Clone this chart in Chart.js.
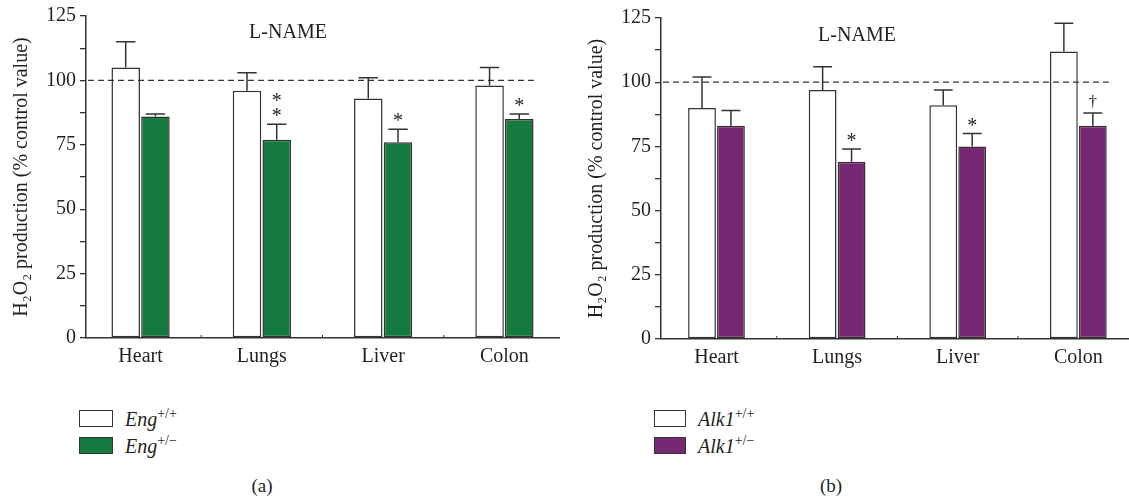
<!DOCTYPE html>
<html lang="en">
<head>
<meta charset="UTF-8">
<title>H2O2 production - L-NAME</title>
<script src="https://cdn.jsdelivr.net/npm/chart.js@4.4.1/dist/chart.umd.min.js"></script>
<style>
    body {
        margin: 0;
        background: #ffffff;
        font-family: 'Liberation Serif', 'DejaVu Serif', serif;
        color: #231f20;
    }
    #page { position: relative; width: 1129px; height: 498px; overflow: hidden; background: #fff; }
    .panel { position: absolute; top: 0; height: 380px; }
    .title { position: absolute; font-size: 20px; line-height: 24px; transform: translateX(-50%); white-space: nowrap; }
    .legend { position: absolute; font-size: 20px; line-height: 24px; }
    .legend .row { display: flex; align-items: center; height: 27px; }
    .legend .sw { box-sizing: border-box; height: 17px; border: 1.5px solid #333; margin-right: 12px; }
    .legend i sup { font-size: 14px; vertical-align: 8px; line-height: 0; font-style: normal; }
    .caption { position: absolute; top: 474px; font-size: 19px; line-height: 24px; transform: translateX(-50%); }
</style>
</head>
<body>
<div id="page">
    <div class="panel" style="left:0; width:565px;"><canvas id="chartA"></canvas></div>
    <div class="panel" style="left:575px; width:554px;"><canvas id="chartB"></canvas></div>

    <div class="title" style="left:288px; top:19px;">L-NAME</div>
    <div class="title" style="left:857px; top:22px;">L-NAME</div>

    <div class="legend" style="left:79px; top:405px;">
        <div class="row"><span class="sw" style="width:34px; background:#fff;"></span><i>Eng<sup>+/+</sup></i></div>
        <div class="row"><span class="sw" style="width:34px; background:#157a40;"></span><i>Eng<sup>+/−</sup></i></div>
    </div>
    <div class="legend" style="left:654px; top:405px;">
        <div class="row"><span class="sw" style="width:32px; background:#fff;"></span><i>Alk1<sup>+/+</sup></i></div>
        <div class="row"><span class="sw" style="width:32px; background:#762873;"></span><i>Alk1<sup>+/−</sup></i></div>
    </div>

    <div class="caption" style="left:262px;">(a)</div>
    <div class="caption" style="left:831px;">(b)</div>
</div>

<script>
    // categories
    const organs = ['Heart', 'Lungs', 'Liver', 'Colon'];
    const yTicksMajor = [0, 25, 50, 75, 100, 125];

    // panel (a): Eng
    const engWT = [105, 96, 93, 98];
    const engWTErr = [10, 7, 8, 7];
    const engHet = [86, 77, 76, 85];
    const engHetErr = [1, 6, 5, 2];
    const engMarks = ['', '**', '*', '*'];

    // panel (b): Alk1
    const alkWT = [90, 97, 91, 112];
    const alkWTErr = [12, 9, 6, 11];
    const alkHet = [83, 69, 75, 83];
    const alkHetErr = [6, 5, 5, 5];
    const alkMarks = ['', '*', '*', '†'];

    const controlValue = 100;

    const FONT = "'Liberation Serif', 'DejaVu Serif', serif";
    const INK = '#231f20';
    const LINE = '#333333';

    // error bars, significance marks and the dashed control line
    const extrasPlugin = {
        id: 'extras',
        afterDatasetsDraw(chart, args, opts) {
            const { ctx, chartArea, scales: { x, y } } = chart;
            ctx.save();
            ctx.strokeStyle = LINE;
            ctx.lineWidth = 1.5;

            // error bars (upper only)
            opts.errors.forEach((errs, di) => {
                const meta = chart.getDatasetMeta(di);
                meta.data.forEach((bar, i) => {
                    const v = chart.data.datasets[di].data[i].y;
                    const top = y.getPixelForValue(v + errs[i]);
                    const half = bar.width * 0.34;
                    ctx.beginPath();
                    ctx.moveTo(bar.x, bar.y);
                    ctx.lineTo(bar.x, top);
                    ctx.moveTo(bar.x - half, top);
                    ctx.lineTo(bar.x + half, top);
                    ctx.stroke();
                });
            });

            // significance marks above the second group
            const hetIdx = 1;
            const hetMeta = chart.getDatasetMeta(hetIdx);
            ctx.fillStyle = INK;
            ctx.textAlign = 'center';
            ctx.textBaseline = 'alphabetic';
            opts.marks.forEach((m, i) => {
                if (!m) return;
                const bar = hetMeta.data[i];
                const v = chart.data.datasets[hetIdx].data[i].y;
                const top = y.getPixelForValue(v + opts.errors[hetIdx][i]);
                const chars = Array.from(m);
                chars.forEach((c, k) => {
                    if (c === '†') {
                        ctx.font = '17px ' + FONT;
                        ctx.fillText(c, bar.x, top - 6);
                    } else {
                        ctx.font = '20px ' + FONT;
                        ctx.fillText(c, bar.x, top - 2 - k * 15);
                    }
                });
            });

            // dashed line at control value, over the bars
            const lastMeta = chart.getDatasetMeta(chart.data.datasets.length - 1);
            const lastBar = lastMeta.data[lastMeta.data.length - 1];
            const yRef = y.getPixelForValue(controlValue);
            ctx.lineWidth = 1.3;
            ctx.setLineDash([6, 4]);
            ctx.beginPath();
            ctx.moveTo(chartArea.left + 2, yRef);
            ctx.lineTo(lastBar.x + lastBar.width / 2 + 2, yRef);
            ctx.stroke();
            ctx.setLineDash([]);

            // small ticks on the category axis between groups
            ctx.lineWidth = 1;
            for (let i = 0; i < organs.length - 1; i++) {
                const px = x.getPixelForValue(i + 0.5);
                ctx.beginPath();
                ctx.moveTo(px, chartArea.bottom);
                ctx.lineTo(px, chartArea.bottom - 3);
                ctx.stroke();
            }
            ctx.restore();
        }
    };

    function crearPanel(canvasId, wt, wtErr, het, hetErr, marks, hetColor, cfg) {
        const toPts = arr => arr.map((v, i) => ({ x: i, y: v }));
        return new Chart(document.getElementById(canvasId), {
            type: 'bar',
            data: {
                datasets: [
                    {
                        label: 'WT',
                        data: toPts(wt),
                        backgroundColor: '#ffffff',
                        borderColor: LINE,
                        borderWidth: 1.5,
                        borderSkipped: false,
                        categoryPercentage: cfg.catPct,
                        barPercentage: 0.96
                    },
                    {
                        label: 'Het',
                        data: toPts(het),
                        backgroundColor: hetColor,
                        borderColor: LINE,
                        borderWidth: 1.5,
                        borderSkipped: false,
                        categoryPercentage: cfg.catPct,
                        barPercentage: 0.96
                    }
                ]
            },
            options: {
                responsive: true,
                maintainAspectRatio: false,
                animation: false,
                layout: { padding: { top: cfg.padTop, right: cfg.padRight, left: 0, bottom: 0 } },
                plugins: {
                    legend: { display: false },
                    tooltip: { enabled: false },
                    extras: { errors: [wtErr, hetErr], marks: marks }
                },
                scales: {
                    x: {
                        type: 'linear',
                        offset: false,
                        min: cfg.xMin,
                        max: cfg.xMax,
                        grid: { display: false, drawTicks: false, offset: false },
                        border: { display: true, color: LINE, width: 1.5 },
                        afterBuildTicks: s => { s.ticks = organs.map((_, i) => ({ value: i })); },
                        afterFit: s => { s.height = cfg.xHeight; },
                        ticks: {
                            autoSkip: false,
                            padding: 7,
                            color: INK,
                            font: { family: FONT, size: 20 },
                            callback: v => organs[v]
                        }
                    },
                    y: {
                        min: 0,
                        max: 125,
                        grid: { display: true, drawOnChartArea: false, drawTicks: true, tickLength: 6, color: LINE, lineWidth: 1.3 },
                        border: { display: true, color: LINE, width: 1.5 },
                        afterFit: s => { s.width = 86; },
                        ticks: {
                            stepSize: 12.5,
                            autoSkip: false,
                            padding: 4,
                            color: INK,
                            font: { family: FONT, size: 20 },
                            callback: v => yTicksMajor.includes(v) ? v : ''
                        },
                        title: {
                            display: true,
                            text: 'H₂O₂ production (% control value)',
                            color: INK,
                            font: { family: FONT, size: 20 },
                            padding: { top: 10, bottom: 0 }
                        }
                    }
                }
            },
            plugins: [extrasPlugin]
        });
    }

    crearPanel('chartA', engWT, engWTErr, engHet, engHetErr, engMarks, '#157a40',
        { catPct: 0.49, xMin: -0.45, xMax: 3.45, padTop: 15, padRight: 6, xHeight: 42 });
    crearPanel('chartB', alkWT, alkWTErr, alkHet, alkHetErr, alkMarks, '#762873',
        { catPct: 0.48, xMin: -0.46, xMax: 3.42, padTop: 18, padRight: 0, xHeight: 41 });
</script>
</body>
</html>
